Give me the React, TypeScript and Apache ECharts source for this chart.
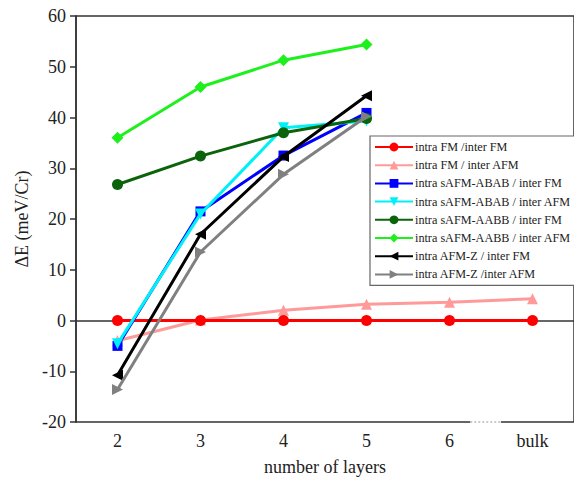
import React, { useEffect, useRef } from "react";
import * as echarts from "echarts";

const layers = [2, 3, 4, 5, 6, 7];
const xTickLabels = ["2", "3", "4", "5", "6", "bulk"];
const yTicks = [-20, -10, 0, 10, 20, 30, 40, 50, 60];

const names = [
  "intra FM /inter FM",
  "intra FM / inter AFM",
  "intra sAFM-ABAB / inter FM",
  "intra sAFM-ABAB / inter AFM",
  "intra sAFM-AABB / inter FM",
  "intra sAFM-AABB / inter AFM",
  "intra AFM-Z / inter FM",
  "intra AFM-Z /inter AFM",
];

const fmFM = [0, 0, 0, 0, 0, 0];
const fmAFM = [-4.0, 0.1, 2.0, 3.2, 3.6, 4.3];
const ababFM = [-5.0, 21.5, 32.5, 40.9];
const ababAFM = [-4.6, 21.0, 38.0, 39.3];
const aabbFM = [26.8, 32.4, 37.0, 39.8];
const aabbAFM = [36.0, 46.0, 51.3, 54.4];
const afmzFM = [-10.8, 17.0, 32.3, 44.3];
const afmzAFM = [-13.6, 13.5, 28.8, 40.2];

const seriesValues = [fmFM, fmAFM, ababFM, ababAFM, aabbFM, aabbAFM, afmzFM, afmzAFM];
const colors = ["#ff0000", "#ff9a9a", "#0000ff", "#00f0f8", "#0b640b", "#1ef01e", "#000000", "#808080"];
const symbols = ["circle", "triangle", "rect", "triangle", "circle", "diamond", "triangle", "triangle"];
const rotations = [0, 0, 0, 180, 0, 0, 90, -90];
const sizes = [11, 11, 10, 11, 11, 12, 11, 11];
const layerOrder = [3, 2, 4, 5, 6, 7, 8, 9];

const FONT = "Liberation Serif";

export default function App() {
  const ref = useRef<HTMLDivElement>(null);
  useEffect(() => {
    if (!ref.current) return;
    const chart = echarts.init(ref.current, null, { renderer: "svg" });
    const series = seriesValues.map((vals, i) => ({
      name: names[i],
      type: "line",
      data: vals.map((v, j) => [layers[j], v]),
      symbol: symbols[i],
      symbolSize: sizes[i],
      symbolRotate: rotations[i],
      showSymbol: true,
      lineStyle: { color: colors[i], width: 3 },
      itemStyle: { color: colors[i] },
      z: layerOrder[i],
    }));
    chart.setOption({
      animation: false,
      backgroundColor: "#ffffff",
      grid: {
        left: 76,
        right: -6,
        top: 16,
        bottom: 61,
        show: true,
        borderColor: "#333333",
        borderWidth: 1.5,
      },
      legend: {
        orient: "vertical",
        left: 370,
        top: 136,
        width: 200,
        padding: [5, 4, 5, 4],
        backgroundColor: "#ffffff",
        borderColor: "#666666",
        borderWidth: 1.2,
        itemWidth: 38,
        itemHeight: 11,
        itemGap: 6.2,
        textStyle: { fontFamily: FONT, fontSize: 12.2, color: "#222222", padding: [0, 0, 0, -3] },
        data: names,
        z: 20,
      },
      xAxis: {
        type: "value",
        min: 1.5,
        max: 7.5,
        name: "number of layers",
        nameLocation: "middle",
        nameGap: 36,
        nameTextStyle: { fontFamily: FONT, fontSize: 18, color: "#222222" },
        axisLine: { show: true, lineStyle: { color: "#333333", width: 1.5 } },
        axisTick: { show: false },
        splitLine: { show: false },
        axisLabel: {
          customValues: layers,
          fontFamily: FONT,
          fontSize: 18,
          color: "#222222",
          margin: 10,
          formatter: (v: number) => xTickLabels[layers.indexOf(v)] ?? "",
        },
      },
      yAxis: {
        type: "value",
        min: -20,
        max: 60,
        interval: 10,
        name: "ΔE (meV/Cr)",
        nameLocation: "middle",
        nameRotate: 90,
        nameGap: 41,
        nameTextStyle: { fontFamily: FONT, fontSize: 18, color: "#222222" },
        axisLine: { show: true, lineStyle: { color: "#333333", width: 1.5 } },
        axisTick: { show: true, inside: false, length: 6, lineStyle: { color: "#333333", width: 1.5 } },
        splitLine: { show: false },
        axisLabel: {
          fontFamily: FONT,
          fontSize: 18,
          color: "#222222",
          margin: 10,
          customValues: yTicks,
        },
      },
      series,
    });
    const p1 = chart.convertToPixel({ gridIndex: 0 }, [6.25, -20]) as number[];
    const p2 = chart.convertToPixel({ gridIndex: 0 }, [6.62, -20]) as number[];
    chart.setOption({
      graphic: [
        {
          type: "line",
          shape: { x1: p1[0], y1: p1[1], x2: p2[0], y2: p2[1] },
          style: { stroke: "#ffffff", lineWidth: 3 },
          z: 100,
        },
        {
          type: "line",
          shape: { x1: p1[0], y1: p1[1], x2: p2[0], y2: p2[1] },
          style: { stroke: "#999999", lineWidth: 1.2, lineDash: [2, 2] },
          z: 101,
        },
      ],
    });
    return () => chart.dispose();
  }, []);
  return (
    <div
      ref={ref}
      style={{ position: "fixed", left: 0, top: 0, width: 574, height: 483, background: "#fff" }}
    />
  );
}
